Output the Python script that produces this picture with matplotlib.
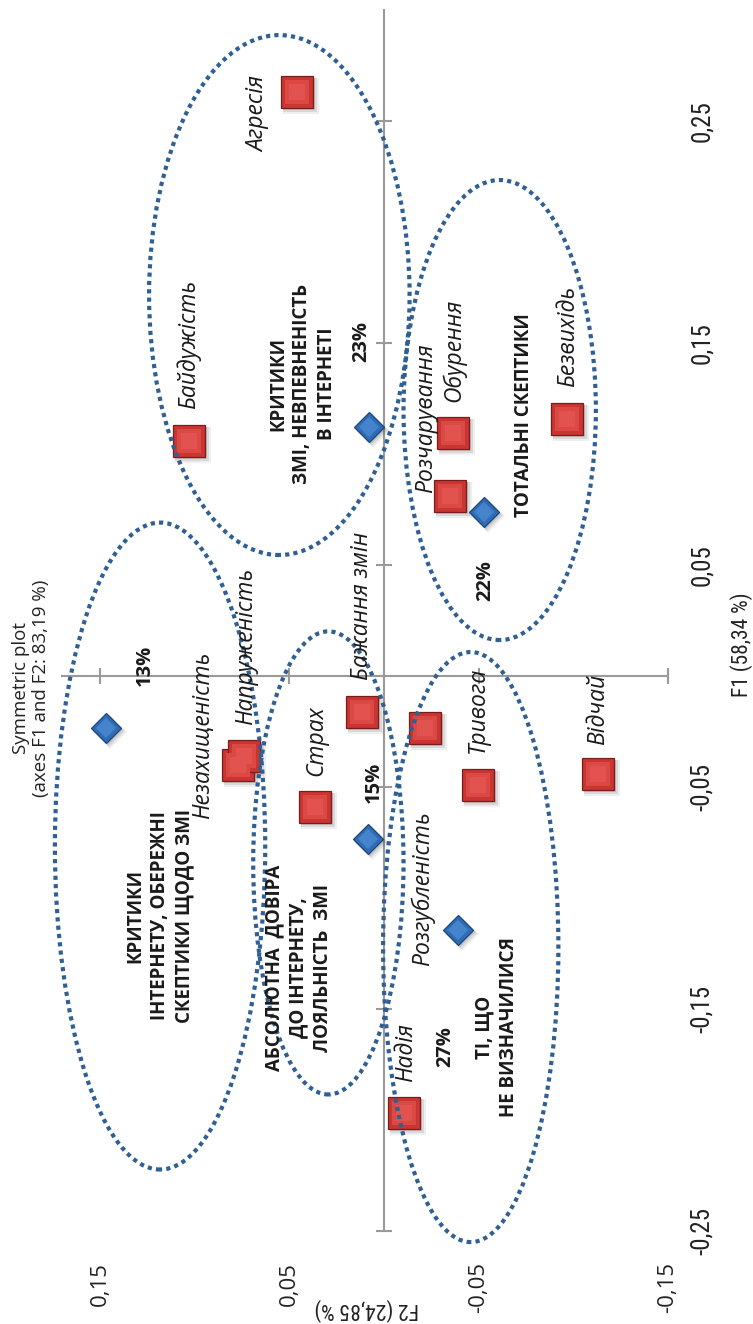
import matplotlib
matplotlib.use("Agg")
import matplotlib.pyplot as plt
from matplotlib.patches import Ellipse
import matplotlib.transforms as mtransforms
from matplotlib import font_manager

# ---------------- data ----------------
emotions = ["Агресія", "Байдужість", "Обурення", "Розчарування", "Безвихідь",
            "Незахищеність", "Напруженість", "Страх", "Бажання змін", "Тривога",
            "Розгубленість", "Відчай", "Надія"]
emo_f1 = [0.263, 0.106, 0.1095, 0.081, 0.1158, -0.040, -0.036, -0.059, -0.0162,
          -0.0491, -0.0234, -0.044, -0.197]
emo_f2 = [0.0458, 0.103, -0.0362, -0.0347, -0.0966, 0.077, 0.0738, 0.0362, 0.0114,
          -0.0495, -0.0214, -0.113, -0.0108]

cluster_pct = ["23%", "22%", "13%", "15%", "27%"]
clu_f1 = [0.112, 0.074, -0.0234, -0.0734, -0.1144]
clu_f2 = [0.0082, -0.0526, 0.147, 0.0087, -0.0389]

cluster_names = ["КРИТИКИ\nЗМІ, НЕВПЕВНЕНІСТЬ\nВ ІНТЕРНЕТІ",
                 "ТОТАЛЬНІ СКЕПТИКИ",
                 "КРИТИКИ\nІНТЕРНЕТУ, ОБЕРЕЖНІ\nСКЕПТИКИ ЩОДО ЗМІ",
                 "АБСОЛЮТНА  ДОВІРА\nДО ІНТЕРНЕТУ,\nЛОЯЛЬНІСТЬ  ЗМІ",
                 "ТІ, ЩО\nНЕ ВИЗНАЧИЛИСЯ"]

f1_ticks = [0.25, 0.15, 0.05, -0.05, -0.15, -0.25]
f1_tick_labels = ["0,25", "0,15", "0,05", "-0,05", "-0,15", "-0,25"]
f2_ticks = [0.15, 0.05, -0.05, -0.15]
f2_tick_labels = ["0,15", "0,05", "-0,05", "-0,15"]

title_text = "Symmetric plot\n(axes F1 and F2: 83,19 %)"
f1_title = "F1 (58,34 %)"
f2_title = "F2 (24,85 %)"

# ---------------- layout (positions, not data) ----------------
emo_label_pos = [(0.0664, 0.2532), (0.1029, 0.1495), (-0.0368, 0.1468), (-0.0220, 0.1162),
                 (-0.0971, 0.1532), (0.0955, -0.0266), (0.0728, 0.0135), (0.0357, -0.0293),
                 (0.0114, 0.0315), (-0.0495, -0.0153), (-0.0204, -0.0959), (-0.1130, -0.0149),
                 (-0.0114, -0.1698)]
pct_label_pos = [(0.0119, 0.1505), (-0.0537, 0.0432), (0.1262, 0.0050),
                 (0.0056, -0.0477), (-0.0325, -0.1671)]
name_label_pos = [(0.0431, 0.1315), (-0.0738, 0.1176), (0.1183, -0.1080),
                  (0.0452, -0.1315), (-0.0595, -0.1581)]
ellipses = [(0.0553, 0.1716, 0.1376, 0.2342),
            (-0.0611, 0.1198, 0.1016, 0.2072),
            (0.1183, -0.0766, 0.1111, 0.2914),
            (0.0294, -0.0842, 0.0794, 0.2086),
            (-0.0458, -0.1221, 0.0926, 0.2658)]

# pick a condensed font if one is installed
names = sorted({f.name for f in font_manager.fontManager.ttflist})
narrow_name = None
for cand in ["Liberation Sans Narrow", "DejaVu Sans Condensed", "Roboto Condensed",
             "Open Sans Condensed"]:
    if cand in names:
        narrow_name = cand
        break
if narrow_name is None:
    for n in names:
        if "Narrow" in n or "Condensed" in n:
            narrow_name = n
            break
narrow = [narrow_name, "DejaVu Sans"] if narrow_name else ["Open Sans", "DejaVu Sans"]
narrow_scale = 1.0 if narrow_name else 0.85

W, H = 753, 1324
fig = plt.figure(figsize=(W / 100, H / 100), dpi=100)
ax = fig.add_axes([62 / W, 1 - 1231 / H, (668 - 62) / W, (1231 - 10) / H])
ax.set_xlim(0.1701, -0.15)
ax.set_ylim(-0.25, 0.30)
ax.axis("off")

axis_col = "#9a9a9a"
ax.plot([0, 0], [-0.25, 0.30], color=axis_col, lw=1.5, zorder=1, clip_on=False)
ax.plot([0.1701, -0.15], [0, 0], color=axis_col, lw=1.5, zorder=1, clip_on=False)
ax.plot([0] * len(f1_ticks), f1_ticks, ls="none", marker="_", ms=12, mew=1.5,
        color=axis_col, zorder=1, clip_on=False)
ax.plot(f2_ticks, [0] * len(f2_ticks), ls="none", marker="|", ms=12, mew=1.5,
        color=axis_col, zorder=1, clip_on=False)

# markers with soft shadow
for off, a, s in [(4, 0.08, 26), (3, 0.12, 24.5), (2, 0.15, 23.5)]:
    tr = mtransforms.offset_copy(ax.transData, fig=fig, x=off, y=-off, units="dots")
    ax.plot(emo_f2, emo_f1, ls="none", marker="s", ms=s, color="#333333",
            alpha=a, mew=0, transform=tr, zorder=2)
    ax.plot(clu_f2, clu_f1, ls="none", marker="D", ms=s * 0.66, color="#333333",
            alpha=a, mew=0, transform=tr, zorder=2)

ax.plot(emo_f2, emo_f1, ls="none", marker="s", ms=23.5, mfc="#c93531", mec="#7a1c1c",
        mew=0.9, zorder=3)
ax.plot(emo_f2, emo_f1, ls="none", marker="s", ms=17, mfc="#dc4844", mew=0, zorder=4)
ax.plot(emo_f2, emo_f1, ls="none", marker="s", ms=11, mfc="#e2524e", mew=0, zorder=4)
ax.plot(clu_f2, clu_f1, ls="none", marker="D", ms=15.5, mfc="#2f6cb3", mec="#1b477d",
        mew=0.9, zorder=3)
ax.plot(clu_f2, clu_f1, ls="none", marker="D", ms=10.5, mfc="#4584cc", mew=0, zorder=4)

for (cx, cy, w, h) in ellipses:
    e = Ellipse((cx, cy), w, h, fill=False, edgecolor="#2f5f93", lw=3.0,
                linestyle=(0, (1, 1.0)), zorder=5, clip_on=False)
    e.set_capstyle("butt")
    ax.add_patch(e)

lab_font = ["Open Sans", "DejaVu Sans"]
for name, (lx, ly) in zip(emotions, emo_label_pos):
    ax.text(lx, ly, name, rotation=90, ha="center", va="center", fontsize=16.5,
            style="italic", family=lab_font, color="#1a1a1a", zorder=6)
for pct, (lx, ly) in zip(cluster_pct, pct_label_pos):
    ax.text(lx, ly, pct, rotation=90, ha="center", va="center", fontsize=14.5,
            weight="bold", family=lab_font, color="#1a1a1a", zorder=6)
for nm, (lx, ly) in zip(cluster_names, name_label_pos):
    ax.text(lx, ly, nm, rotation=90, ha="center", va="center", fontsize=13.5,
            weight="bold", family=lab_font, color="#1a1a1a", zorder=6,
            multialignment="center", linespacing=1.3)

tr_f1 = mtransforms.blended_transform_factory(fig.transFigure, ax.transData)
for v, t in zip(f1_ticks, f1_tick_labels):
    ax.text(690 / W, v, t, rotation=90, ha="left", va="center", fontsize=18 * narrow_scale,
            family=narrow, color="#222222", transform=tr_f1)
tr_f2 = mtransforms.blended_transform_factory(ax.transData, fig.transFigure)
for v, t in zip(f2_ticks, f2_tick_labels):
    ax.text(v, 1 - 1262 / H, t, rotation=90, ha="center", va="top", fontsize=16,
            family=lab_font, color="#222222", transform=tr_f2)

fig.text(742 / W, 1 - 645 / H, f1_title, rotation=90, ha="center", va="center",
         fontsize=15.5 * narrow_scale, family=narrow, color="#222222")
fig.text(367 / W, 1 - 1309 / H, f2_title, rotation=180, ha="center", va="center",
         fontsize=15.5 * narrow_scale, family=narrow, color="#222222")
fig.text(31 / W, 1 - 688 / H, title_text, rotation=90, ha="center", va="center",
         fontsize=13.5, family=lab_font, color="#222222", multialignment="center",
         linespacing=1.15)

fig.savefig("out.png", dpi=100)
